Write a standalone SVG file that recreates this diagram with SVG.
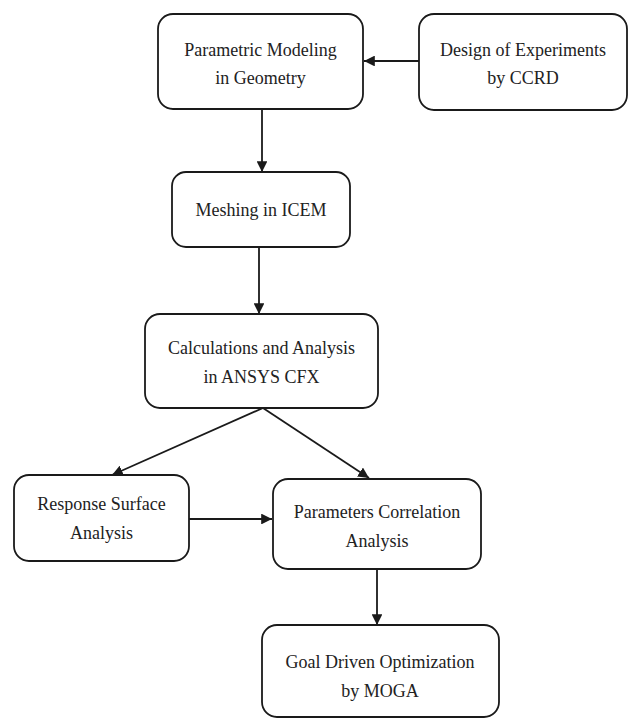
<svg xmlns="http://www.w3.org/2000/svg" width="629" height="719" viewBox="0 0 629 719">
<style>
.box{fill:#fff;stroke:#1a1a1a;stroke-width:1.8}
.lbl{font-size:18px;fill:#222;text-anchor:middle}
.conn{stroke:#1a1a1a;stroke-width:1.8;fill:none;marker-end:url(#ah)}
</style>
<defs>
<marker id="ah" viewBox="0 0 10 10" refX="10" refY="5" markerWidth="6" markerHeight="6" markerUnits="strokeWidth" orient="auto">
<path d="M0,0 L10,5 L0,10 z" fill="#1a1a1a"/>
</marker>
</defs>
<rect width="629" height="719" fill="#fff"/>
<g id="connectors">
<line class="conn" x1="419" y1="61" x2="364" y2="61"/>
<line class="conn" x1="262" y1="109" x2="262" y2="172"/>
<line class="conn" x1="259" y1="247" x2="259" y2="314"/>
<line class="conn" x1="263" y1="408" x2="112" y2="475"/>
<line class="conn" x1="263" y1="408" x2="369" y2="478"/>
<line class="conn" x1="189" y1="519" x2="272" y2="519"/>
<line class="conn" x1="377" y1="569" x2="377" y2="625"/>
</g>
<g font-family="'Liberation Serif', 'Times New Roman', Times, serif">
<g id="n1">
<rect class="box" x="158" y="14" width="205" height="95" rx="15"/>
<text class="lbl" x="260.5" y="56">Parametric Modeling</text>
<text class="lbl" x="260.5" y="84">in Geometry</text>
</g>
<g id="n2">
<rect class="box" x="419" y="14" width="208" height="96" rx="15"/>
<text class="lbl" x="523" y="56">Design of Experiments</text>
<text class="lbl" x="523" y="84">by CCRD</text>
</g>
<g id="n3">
<rect class="box" x="172" y="172" width="178" height="75" rx="14"/>
<text class="lbl" x="261" y="216">Meshing in ICEM</text>
</g>
<g id="n4">
<rect class="box" x="145" y="314" width="233" height="94" rx="15"/>
<text class="lbl" x="261.5" y="354">Calculations and Analysis</text>
<text class="lbl" x="261.5" y="383">in ANSYS CFX</text>
</g>
<g id="n5">
<rect class="box" x="14" y="475" width="175" height="86" rx="15"/>
<text class="lbl" x="101.5" y="510">Response Surface</text>
<text class="lbl" x="101.5" y="539">Analysis</text>
</g>
<g id="n6">
<rect class="box" x="273" y="479" width="208" height="90" rx="15"/>
<text class="lbl" x="377" y="518">Parameters Correlation</text>
<text class="lbl" x="377" y="547">Analysis</text>
</g>
<g id="n7">
<rect class="box" x="262" y="625" width="237" height="92" rx="15"/>
<text class="lbl" x="380" y="668">Goal Driven Optimization</text>
<text class="lbl" x="380" y="697">by MOGA</text>
</g>
</g>
</svg>
